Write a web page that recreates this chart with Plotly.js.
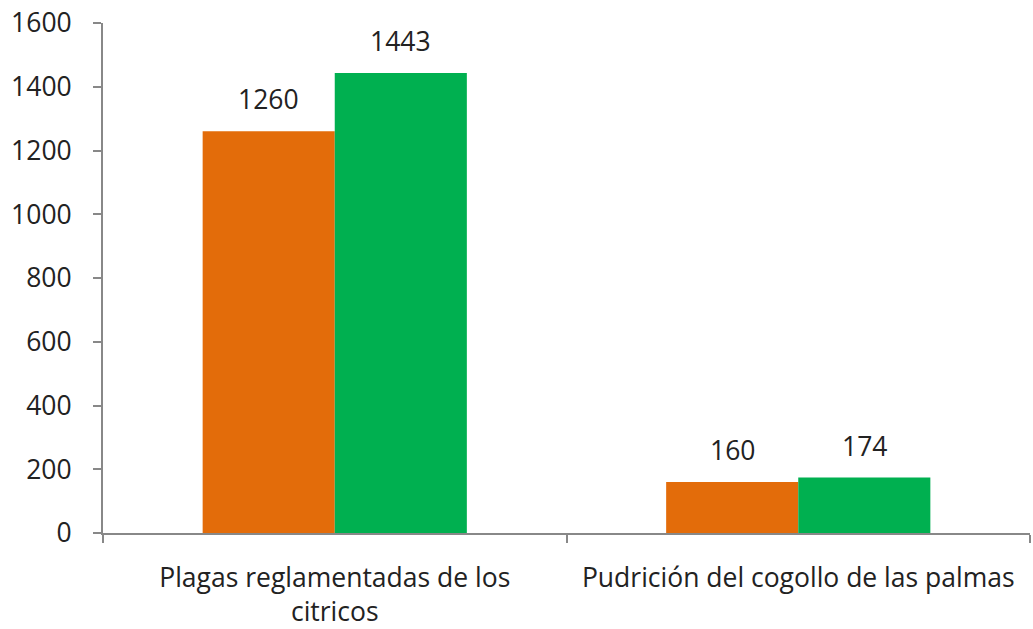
<!DOCTYPE html>
<html>
<head>
<meta charset="utf-8">
<script src="https://cdn.plot.ly/plotly-3.0.1.min.js"></script>
<style>html,body{margin:0;padding:0;background:#fff;}#chart{width:1033px;height:629px;}</style>
</head>
<body>
<div id="chart"></div>
<script>
const categories = ["Plagas reglamentadas de los<br>citricos", "Pudrición del cogollo de las palmas"];
const seriesA = [1260, 160];
const seriesB = [1443, 174];
const colorA = "#E36C0A";
const colorB = "#00B050";
const yTicks = [0, 200, 400, 600, 800, 1000, 1200, 1400, 1600];

const fontFam = "'Open Sans', 'Noto Sans', sans-serif";
const txtColor = "#222222";
const fs = 26.5;
const barGap = 0.43;
const plotW = 1033 - 103 - 3;
const barPx = plotW / categories.length * (1 - barGap) / 2;

const traces = [
  {type: "bar", x: categories, y: seriesA, marker: {color: colorA}, hoverinfo: "none"},
  {type: "bar", x: categories, y: seriesB, marker: {color: colorB}, hoverinfo: "none"}
];

const annotations = [];
[seriesA, seriesB].forEach((s, si) => {
  s.forEach((v, i) => {
    annotations.push({
      x: categories[i], y: v, xref: "x", yref: "y",
      text: String(v), showarrow: false,
      xshift: (si === 0 ? -1 : 1) * barPx / 2,
      yanchor: "bottom", yshift: 12,
      font: {family: fontFam, size: fs, color: txtColor}
    });
  });
});

const layout = {
  width: 1033, height: 629,
  margin: {l: 103, r: 3, t: 23, b: 96},
  paper_bgcolor: "#fff", plot_bgcolor: "#fff",
  barmode: "group", bargap: barGap, bargroupgap: 0,
  showlegend: false,
  font: {family: fontFam, size: fs, color: txtColor},
  xaxis: {
    type: "category", showline: true, linecolor: "#888888", linewidth: 2,
    ticks: "outside", tickson: "boundaries", ticklen: 8, tickcolor: "#888888", tickwidth: 2,
    showgrid: false, zeroline: false, ticklabelstandoff: 20,
    tickfont: {family: fontFam, size: fs, color: txtColor}
  },
  yaxis: {
    range: [0, 1600], tickvals: yTicks, ticktext: yTicks.map(String),
    showline: true, linecolor: "#888888", linewidth: 2,
    ticks: "outside", ticklen: 8, tickcolor: "#888888", tickwidth: 2,
    showgrid: false, zeroline: false, ticklabelstandoff: 16,
    tickfont: {family: fontFam, size: fs, color: txtColor}
  },
  annotations: annotations
};

Plotly.newPlot("chart", traces, layout, {staticPlot: true, displayModeBar: false});
</script>
</body>
</html>
